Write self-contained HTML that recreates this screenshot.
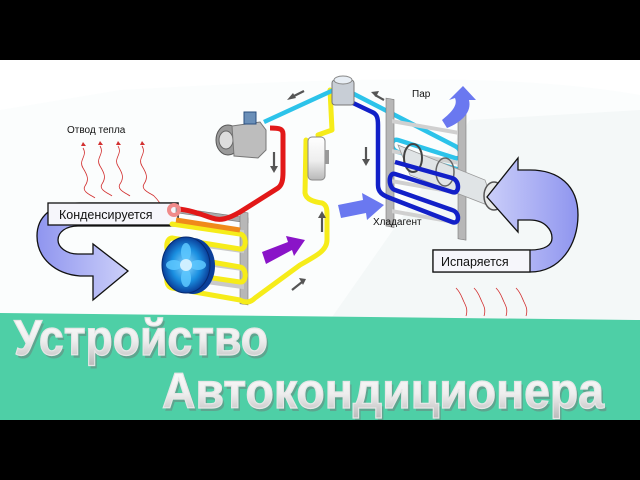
<!DOCTYPE html>
<html><head><meta charset="utf-8"><style>
html,body{margin:0;padding:0;width:640px;height:480px;overflow:hidden;background:#000}
svg{display:block}
</style></head><body>
<svg width="640" height="480" viewBox="0 0 640 480" xmlns="http://www.w3.org/2000/svg" font-family="Liberation Sans, sans-serif">
<defs>
<linearGradient id="ag" x1="0" y1="0" x2="1" y2="0"><stop offset="0" stop-color="#8f95ef"/><stop offset="1" stop-color="#eef0ff"/></linearGradient>
<linearGradient id="ag2" x1="1" y1="0" x2="0" y2="0"><stop offset="0" stop-color="#8f95ef"/><stop offset="1" stop-color="#eef0ff"/></linearGradient>
<linearGradient id="tg" x1="0" y1="0" x2="0" y2="1"><stop offset="0" stop-color="#ffffff"/><stop offset="0.55" stop-color="#eeeeee"/><stop offset="1" stop-color="#b8b8b8"/></linearGradient>
<radialGradient id="fan" cx="0.5" cy="0.5" r="0.5"><stop offset="0" stop-color="#8fd8ff"/><stop offset="0.6" stop-color="#1a8fe0"/><stop offset="1" stop-color="#0a3f9a"/></radialGradient>
</defs>
<rect x="0" y="60" width="640" height="360" fill="#fbfdfd"/>
<path d="M0,60 L640,60 L640,95 C500,70 300,80 120,90 L0,110 Z" fill="#ffffff"/>
<path d="M330,320 L470,120 L640,110 L640,320 Z" fill="#f4f8f8"/>

<g stroke="#d23030" stroke-width="0.8" fill="none">
<path d="M83,148 c5,8 -5,12 0,20 s6,12 2,18 s8,10 10,12"/>
<path d="M100,146 c5,8 -5,12 0,20 s6,12 2,18 s8,10 10,12"/>
<path d="M118,146 c5,8 -5,12 0,20 s6,12 2,18 s8,10 10,12"/>
<path d="M142,146 c5,8 -5,12 0,20 s6,12 2,18 s8,10 10,12 s6,6 7,10"/>
</g>
<g fill="#d23030"><path d="M81,146 l2,-4 l3,4z"/><path d="M98,145 l2,-4 l3,4z"/><path d="M116,145 l2,-4 l3,4z"/><path d="M140,145 l2,-4 l3,4z"/></g>
<text x="67" y="133" font-size="10" fill="#111">Отвод тепла</text>

<path d="M178,203 L80,203 C50,203 37,218 37,236 C37,258 55,274 80,276 L93,276 L93,300 L128,271 L93,244 L93,254 L78,254 C66,254 58,247 58,240 C58,232 66,226 78,226 L178,226 Z" fill="url(#ag)" stroke="#111" stroke-width="1.3"/>
<rect x="48" y="203" width="130" height="22" fill="#f6f6fb" stroke="#111" stroke-width="1.3"/>
<text x="59" y="219" font-size="12.5" fill="#111">Конденсируется</text>

<g transform="skewY(8)">
<rect x="176" y="183" width="72" height="5" fill="#aaa" stroke="#777" stroke-width="0.6"/>
<rect x="240" y="178" width="8" height="92" fill="#b7b7b7" stroke="#777" stroke-width="0.6"/>
<rect x="176" y="196" width="68" height="5" fill="#c9c9c9"/>
<rect x="176" y="214" width="68" height="5" fill="#c9c9c9"/>
<rect x="176" y="232" width="68" height="5" fill="#c9c9c9"/>
<rect x="176" y="250" width="68" height="5" fill="#c9c9c9"/>
</g>
<g stroke="#f6ec1a" stroke-width="5" fill="none" stroke-linejoin="round" stroke-linecap="round">
<path d="M330,90 L332,130 L318,135"/>
<path d="M306,140 L305,193 C306,200 315,202 322,203 C327,205 327,210 327,215 L327,240 C327,250 318,255 300,265 L255,298 C250,303 245,303 240,300 L172,288 C165,287 165,272 172,272 L240,282 C247,283 247,268 240,267 L172,255 C165,254 165,238 172,238 L240,249 C247,250 247,235 240,234 L172,224"/>
</g>
<path d="M176,220 L240,230" stroke="#f08a1a" stroke-width="5" fill="none"/>
<path d="M178,209 C190,210 200,214 212,218 C220,221 228,219 240,212 L278,188 C282,185 283,180 283,172 L283,134 C283,129 280,128 270,128" stroke="#e21818" stroke-width="5" fill="none" stroke-linejoin="round"/>
<circle cx="174" cy="210" r="5" fill="none" stroke="#f08a8a" stroke-width="4"/>
<ellipse cx="193" cy="266" rx="22" ry="28" fill="#0a3f9a"/>
<ellipse cx="186" cy="265" rx="24" ry="28" fill="url(#fan)" stroke="#062a70" stroke-width="1"/>
<g fill="#5ec8ff" opacity="0.85">
<ellipse cx="186" cy="252" rx="5" ry="9"/><ellipse cx="186" cy="278" rx="5" ry="9"/>
<ellipse cx="174" cy="265" rx="8" ry="5"/><ellipse cx="198" cy="265" rx="8" ry="5"/>
</g>
<circle cx="186" cy="265" r="6" fill="#cfefff"/>

<ellipse cx="228" cy="140" rx="12" ry="15" fill="#9a9a9a" stroke="#555"/>
<ellipse cx="226" cy="140" rx="7" ry="9" fill="#ddd" stroke="#666"/>
<path d="M232,126 L260,122 L266,130 L266,150 L258,158 L234,156 Z" fill="#bdbdbd" stroke="#777"/>
<rect x="244" y="112" width="12" height="12" fill="#6a8fb8" stroke="#2a4f80"/>

<path d="M264,122 L338,88" stroke="#2cc3ea" stroke-width="4.5" fill="none"/>
<path d="M352,93 L455,146 C463,150 462,160 455,158 L398,140 C390,138 390,150 398,152 L460,170" stroke="#2cc3ea" stroke-width="4.5" fill="none" stroke-linejoin="round"/>
<g transform="skewY(10)">
<rect x="386" y="30" width="8" height="128" fill="#b7b7b7" stroke="#777" stroke-width="0.6"/>
<rect x="458" y="30" width="8" height="128" fill="#b7b7b7" stroke="#777" stroke-width="0.6"/>
<rect x="392" y="50" width="66" height="4" fill="#d0d0d0"/>
<rect x="392" y="80" width="66" height="4" fill="#d0d0d0"/>
<rect x="392" y="110" width="66" height="4" fill="#d0d0d0"/>
<rect x="392" y="140" width="66" height="4" fill="#d0d0d0"/>
</g>
<path d="M398,145 L485,180 L495,208 L410,175 Z" fill="#e0e4e6" stroke="#999" stroke-width="0.8"/>
<ellipse cx="413" cy="158" rx="9" ry="14" fill="none" stroke="#444" stroke-width="2"/>
<ellipse cx="445" cy="172" rx="9" ry="14" fill="none" stroke="#666" stroke-width="1.5"/>
<ellipse cx="494" cy="196" rx="10" ry="14" fill="#e8eaea" stroke="#555" stroke-width="1.5"/>
<path d="M353,103 L372,112 C377,114 378,118 378,125 L378,185 C378,192 382,195 390,198 L452,222 C460,225 460,212 452,210 L395,190 C388,188 388,172 395,174 L452,192 C460,195 460,180 452,178 L395,162" stroke="#1220c8" stroke-width="4.5" fill="none" stroke-linejoin="round"/>
<rect x="332" y="80" width="22" height="25" rx="3" fill="#c8ced6" stroke="#777"/>
<ellipse cx="343" cy="80" rx="9" ry="4" fill="#e8eef5" stroke="#888"/>
<rect x="308" y="137" width="17" height="43" rx="4" fill="url(#tg)" stroke="#888"/>
<rect x="325" y="150" width="4" height="14" fill="#999"/>

<path d="M262,252 L288,242 L286,236 L305,240 L294,256 L292,250 L266,264 Z" fill="#8a14c8"/>
<path d="M338,205 L363,200 L362,193 L384,205 L367,220 L366,213 L341,218 Z" fill="#6a78f0"/>
<path d="M442,120 C452,112 458,105 455,98 L449,100 L463,86 L476,100 L469,100 C472,112 462,122 447,128 Z" fill="#6a78f0"/>
<text x="412" y="97" font-size="10" fill="#111">Пар</text>
<text x="373" y="225" font-size="10" fill="#111">Хладагент</text>
<g stroke="#555" stroke-width="2.2" fill="#555">
<path d="M304,91 L292,97"/><path d="M287,100 l6,-7 l3,5z" stroke="none"/>
<path d="M384,100 L375,95"/><path d="M371,92 l8,-1 l-3,6z" stroke="none"/>
<path d="M274,152 L274,167"/><path d="M270,166 l4,7 l4,-7z" stroke="none"/>
<path d="M366,147 L366,160"/><path d="M362,159 l4,7 l4,-7z" stroke="none"/>
<path d="M322,232 L322,217"/><path d="M318,218 l4,-7 l4,7z" stroke="none"/>
<path d="M292,290 L302,282"/><path d="M299,278 l7,1 l-3,6z" stroke="none"/>
</g>

<path d="M433,250 L433,272 L530,272 C560,272 578,245 578,215 C578,185 558,170 530,170 L518,170 L518,158 L487,197 L518,232 L518,220 L530,220 C545,220 552,230 552,238 C552,245 545,250 530,250 Z" fill="url(#ag2)" stroke="#111" stroke-width="1.3"/>
<rect x="433" y="250" width="97" height="22" fill="#f6f6fb" stroke="#111" stroke-width="1.3"/>
<text x="441" y="266" font-size="12.5" fill="#111">Испаряется</text>
<g stroke="#d23030" stroke-width="0.8" fill="none">
<path d="M456,288 c5,5 6,10 8,14 s4,8 2,14"/><path d="M474,288 c5,5 6,10 8,14 s4,8 2,14"/>
<path d="M496,288 c5,5 6,10 8,14 s4,8 2,14"/><path d="M516,288 c5,5 6,10 8,14 s4,8 2,14"/>
</g>

<path d="M0,313 L640,320 L640,420 L0,420 Z" fill="#4ecfa6"/>
<g font-weight="bold" font-family="Liberation Sans Narrow, Liberation Sans, sans-serif">
<text x="16" y="358" font-size="50" fill="#6a8a80" opacity="0.6" textLength="254" lengthAdjust="spacingAndGlyphs">Устройство</text>
<text x="14" y="355" font-size="50" fill="url(#tg)" stroke="#e6e6e6" stroke-width="1.2" textLength="254" lengthAdjust="spacingAndGlyphs">Устройство</text>
<text x="164" y="411" font-size="50" fill="#6a8a80" opacity="0.6" textLength="442" lengthAdjust="spacingAndGlyphs">Автокондиционера</text>
<text x="162" y="408" font-size="50" fill="url(#tg)" stroke="#e6e6e6" stroke-width="1.2" textLength="442" lengthAdjust="spacingAndGlyphs">Автокондиционера</text>
</g>
<rect x="0" y="0" width="640" height="60" fill="#000"/>
<rect x="0" y="420" width="640" height="60" fill="#000"/>
</svg>
</body></html>
